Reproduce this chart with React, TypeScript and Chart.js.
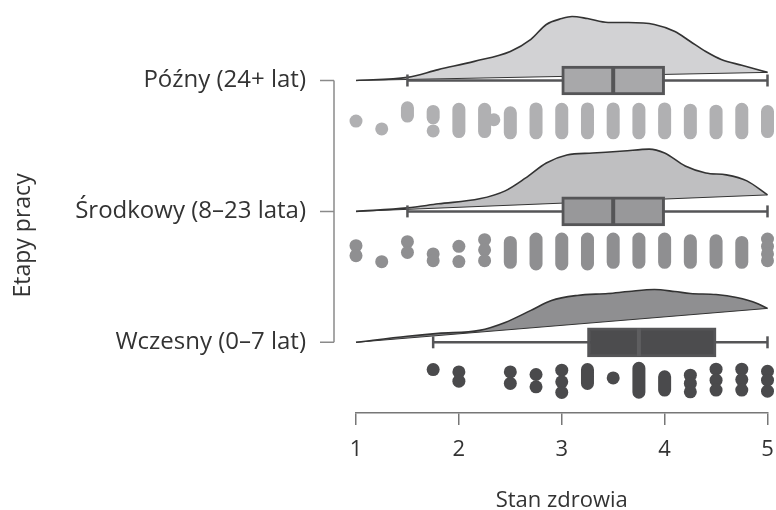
import React, { useEffect, useRef } from 'react';
import { Chart, registerables } from 'chart.js';

Chart.register(...registerables);

// ---------- data ----------
const CATEGORIES = ['Wczesny (0–7 lat)', 'Środkowy (8–23 lata)', 'Późny (24+ lat)'];
const CATEGORY_Y = [0, 100, 200];
const X_TICKS = [1, 2, 3, 4, 5];
const X_TITLE = 'Stan zdrowia';
const Y_TITLE = 'Etapy pracy';

// box plot stats: [whisker low, q1, median, q3, whisker high]
const BOX_WCZESNY = [1.75, 3.25, 3.75, 4.5, 5];
const BOX_SRODKOWY = [1.5, 3, 3.5, 4, 5];
const BOX_POZNY = [1.5, 3, 3.5, 4, 5];

// density cloud outline (height above the category line) and its baseline at x=1 and x=5
const CLOUD_X_POZNY = [1, 1.5, 1.8, 2.15, 2.5, 2.7, 2.85, 3, 3.1, 3.25, 3.45, 3.65, 3.9, 4.1, 4.25, 4.4, 4.55, 4.75, 5];
const CLOUD_Y_POZNY = [0, 2.4, 8.3, 14.6, 22.2, 31.4, 42.8, 47.3, 48.9, 47.3, 44.3, 44.3, 42.8, 37.4, 29.8, 22.2, 16.1, 11.6, 6.2];
const CLOUD_BASE_POZNY = [0, 6.2];

const CLOUD_X_SRODKOWY = [1, 1.5, 1.8, 2.2, 2.45, 2.65, 2.85, 3.05, 3.3, 3.6, 3.85, 4, 4.2, 4.4, 4.6, 4.8, 5];
const CLOUD_Y_SRODKOWY = [0, 2.7, 5.8, 9.6, 15.7, 25.6, 37, 43.1, 44.6, 46.1, 47.6, 44.6, 34.7, 29.4, 27.9, 23.3, 12.6];
const CLOUD_BASE_SRODKOWY = [0, 12.6];

const CLOUD_X_WCZESNY = [1, 1.5, 1.8, 2.2, 2.45, 2.7, 2.9, 3.15, 3.45, 3.65, 3.9, 4.1, 4.25, 4.5, 4.7, 4.9, 5];
const CLOUD_Y_WCZESNY = [0, 4.6, 6.8, 9.1, 15.2, 24.4, 32, 35.8, 37.3, 38.8, 40.3, 38.8, 37.3, 36.5, 34.2, 29.7, 25.9];
const CLOUD_BASE_WCZESNY = [0, 25.9];

// raw points (rain): stacked columns [x, top offset, bottom offset] and single dots [x, offset]
const PILLS_POZNY = [
  [1.5, -20.9, -27.2], [1.75, -23.6, -28.5], [2, -22, -39], [2.25, -22, -39], [2.5, -24.7, -40],
  [2.75, -21.7, -40], [3, -22, -40], [3.25, -21.7, -40], [3.5, -21.7, -40], [3.75, -22, -40],
  [4, -21.7, -40], [4.25, -22.7, -40], [4.5, -23.4, -40], [4.75, -22, -40], [5, -23.7, -39],
];
const DOTS_POZNY = [[1, -31], [1.25, -37], [1.75, -38.5], [2.34, -30]];

const PILLS_SRODKOWY = [
  [2.5, -23.7, -38.9], [2.75, -21.1, -40.1], [3, -21.1, -40.1], [3.25, -21.1, -40.1], [3.5, -21.1, -38.9],
  [3.75, -21.1, -38.9], [4, -21.1, -38.9], [4.25, -22.4, -38.9], [4.5, -22.4, -38.9], [4.75, -23.7, -38.9],
];
const DOTS_SRODKOWY = [
  [1, -26.2], [1, -33.8], [1.25, -38.4], [1.5, -23.1], [1.5, -31.3], [1.75, -32.5], [1.75, -37.6],
  [2, -26.7], [2, -38.3], [2.25, -21.6], [2.25, -29.4], [2.25, -37.6],
  [5, -21.1], [5, -26.7], [5, -32.5], [5, -37.6],
];

const PILLS_WCZESNY = [[3.25, -20.8, -31.4], [3.75, -19.8, -38.1], [4, -26.4, -36.5]];
const DOTS_WCZESNY = [
  [1.75, -20.8], [2, -22.6], [2, -29.7], [2.5, -22.6], [2.5, -31.4], [2.75, -24.6], [2.75, -34],
  [3, -21.3], [3, -30.2], [3, -38.3], [3.5, -27.2], [4.25, -25.1], [4.25, -31.4], [4.25, -37.8],
  [4.5, -20.5], [4.5, -28.9], [4.5, -36.5], [4.75, -20.5], [4.75, -28.5], [4.75, -36.5],
  [5, -22.1], [5, -28.9], [5, -37.3],
];

// ---------- styles ----------
const FONT = "'Open Sans', 'DejaVu Sans', sans-serif";
const TEXT = '#333333';
const OUTLINE = '#333333';
const BOX_BORDER = '#555557';

const GROUPS = [
  {
    cat: CATEGORY_Y[2], box: BOX_POZNY, cx: CLOUD_X_POZNY, cy: CLOUD_Y_POZNY, base: CLOUD_BASE_POZNY,
    pills: PILLS_POZNY, dots: DOTS_POZNY,
    cloud: '#d2d2d4', boxFill: '#a8a8aa', dot: '#b0b0b2', median: '#555557',
  },
  {
    cat: CATEGORY_Y[1], box: BOX_SRODKOWY, cx: CLOUD_X_SRODKOWY, cy: CLOUD_Y_SRODKOWY, base: CLOUD_BASE_SRODKOWY,
    pills: PILLS_SRODKOWY, dots: DOTS_SRODKOWY,
    cloud: '#bfbfc1', boxFill: '#98989a', dot: '#8f8f91', median: '#555557',
  },
  {
    cat: CATEGORY_Y[0], box: BOX_WCZESNY, cx: CLOUD_X_WCZESNY, cy: CLOUD_Y_WCZESNY, base: CLOUD_BASE_WCZESNY,
    pills: PILLS_WCZESNY, dots: DOTS_WCZESNY,
    cloud: '#8f8f91', boxFill: '#4c4c4e', dot: '#4a4a4c', median: '#5e5e60',
  },
];

const BOX_HALF = 10.5;

function buildDatasets() {
  const ds: any[] = [];
  GROUPS.forEach((g) => {
    const [wLo, q1, med, q3, wHi] = g.box;
    // cloud baseline
    ds.push({
      type: 'line',
      data: [{ x: X_TICKS[0], y: g.cat + g.base[0] }, { x: X_TICKS[X_TICKS.length - 1], y: g.cat + g.base[1] }],
      borderColor: OUTLINE, borderWidth: 1, pointRadius: 0, fill: false, order: 8, clip: false,
    });
    // cloud outline, filled down to the baseline
    ds.push({
      type: 'line',
      data: g.cx.map((x, i) => ({ x, y: g.cat + g.cy[i] })),
      borderColor: OUTLINE, borderWidth: 1.6, backgroundColor: g.cloud,
      pointRadius: 0, fill: '-1', tension: 0.4, cubicInterpolationMode: 'monotone', order: 9, clip: false,
    });
    // whiskers with caps
    ds.push({
      type: 'line',
      data: [{ x: wLo, y: g.cat }, { x: wHi, y: g.cat }],
      borderColor: BOX_BORDER, borderWidth: 2.5, fill: false,
      pointStyle: 'line', pointRotation: 90, pointRadius: 6, pointBorderWidth: 2.5, pointBorderColor: BOX_BORDER,
      order: 7, clip: false,
    });
    // box
    ds.push({
      type: 'bar',
      indexAxis: 'y',
      data: [{ x: [q1, q3], y: g.cat }],
      backgroundColor: g.boxFill, borderColor: BOX_BORDER, borderWidth: 3, borderSkipped: false,
      barThickness: 29, grouped: false, order: 6,
    });
    // median
    ds.push({
      type: 'line',
      data: [{ x: med, y: g.cat + BOX_HALF }, { x: med, y: g.cat - BOX_HALF }],
      borderColor: g.median, borderWidth: 4, pointRadius: 0, fill: false, order: 5,
    });
    // stacked rain columns
    const pillData: any[] = [];
    g.pills.forEach(([x, a, b]) => {
      pillData.push({ x, y: g.cat + a }, { x, y: g.cat + b }, { x, y: null });
    });
    ds.push({
      type: 'line',
      data: pillData,
      borderColor: g.dot, borderWidth: 13, borderCapStyle: 'round', pointRadius: 0,
      spanGaps: false, fill: false, order: 4, clip: false,
    });
    // single rain dots
    ds.push({
      type: 'scatter',
      data: g.dots.map(([x, y]) => ({ x, y: g.cat + y })),
      backgroundColor: g.dot, borderWidth: 0, pointRadius: 6.5, order: 4, clip: false,
    });
  });
  return ds;
}

const bracketPlugin = {
  id: 'yBracket',
  afterDraw(chart: any) {
    const { ctx, chartArea, scales } = chart;
    const y = scales.y;
    const xLine = chartArea.left - 22;
    const yTop = y.getPixelForValue(Math.max(...CATEGORY_Y));
    const yBot = y.getPixelForValue(Math.min(...CATEGORY_Y));
    ctx.save();
    ctx.strokeStyle = '#8a8a8a';
    ctx.lineWidth = 1.5;
    ctx.beginPath();
    ctx.moveTo(xLine, yTop);
    ctx.lineTo(xLine, yBot);
    CATEGORY_Y.forEach((v) => {
      const p = y.getPixelForValue(v);
      ctx.moveTo(xLine - 14, p);
      ctx.lineTo(xLine, p);
    });
    ctx.stroke();
    ctx.translate(23, (yTop + yBot) / 2 + 24);
    ctx.rotate(-Math.PI / 2);
    ctx.fillStyle = TEXT;
    ctx.font = `23px ${FONT}`;
    ctx.textAlign = 'center';
    ctx.textBaseline = 'middle';
    ctx.fillText(Y_TITLE, 0, 0);
    ctx.restore();
  },
};

export default function App() {
  const ref = useRef<HTMLCanvasElement>(null);
  useEffect(() => {
    if (!ref.current) return;
    const chart = new Chart(ref.current, {
      type: 'scatter',
      data: { datasets: buildDatasets() },
      options: {
        animation: false,
        responsive: false,
        devicePixelRatio: 1,
        layout: { padding: { left: 0, right: 8, top: 7, bottom: 0 } },
        plugins: { legend: { display: false }, tooltip: { enabled: false } },
        scales: {
          x: {
            type: 'linear',
            position: 'bottom',
            min: 1,
            max: 5,
            offset: false,
            afterBuildTicks: (s: any) => { s.ticks = X_TICKS.map((v) => ({ value: v })); },
            afterFit: (s: any) => { s.height = 97; s.paddingLeft = 0; s.paddingRight = 0; },
            ticks: { font: { family: FONT, size: 22 }, color: TEXT, padding: 12 },
            grid: { display: true, offset: false, drawOnChartArea: false, drawTicks: true, tickLength: 12, color: '#777777', lineWidth: 1.5 },
            border: { display: true, color: '#777777', width: 1.5 },
            title: { display: true, text: X_TITLE, font: { family: FONT, size: 22 }, color: TEXT, padding: { top: 0, bottom: -4 } },
          },
          y: {
            type: 'linear',
            min: -54,
            max: 255,
            offset: false,
            afterBuildTicks: (s: any) => { s.ticks = CATEGORY_Y.map((v) => ({ value: v })); },
            afterFit: (s: any) => { s.width = 356; s.paddingTop = 0; s.paddingBottom = 0; },
            ticks: {
              font: { family: FONT, size: 24 }, color: TEXT, padding: 42,
              callback: (v: any) => CATEGORIES[CATEGORY_Y.indexOf(Number(v))] ?? '',
            },
            grid: { display: false, offset: false },
            border: { display: false },
          },
        },
      },
      plugins: [bracketPlugin],
    } as any);
    return () => chart.destroy();
  }, []);
  return (
    <div style={{ position: 'fixed', left: 0, top: 0, width: 776, height: 510, background: '#fff' }}>
      <canvas ref={ref} width={776} height={510} style={{ display: 'block' }} />
    </div>
  );
}
